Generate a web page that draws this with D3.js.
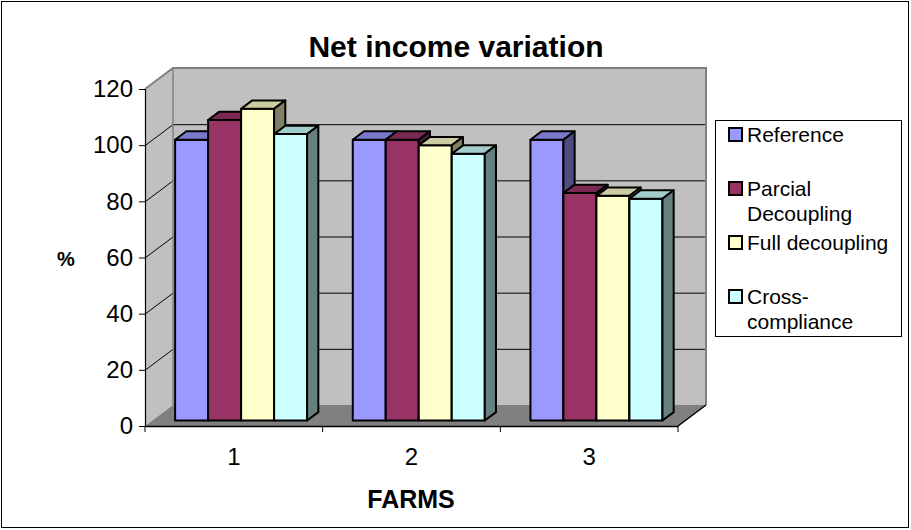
<!DOCTYPE html>
<html>
<head>
<meta charset="utf-8">
<script src="https://cdn.jsdelivr.net/npm/d3@7"></script>
<style>
  html, body { margin: 0; padding: 0; background: #ffffff; }
  svg { display: block; font-family: Arial, "Liberation Sans", sans-serif; }
</style>
</head>
<body>
<svg id="chart" width="911" height="530"></svg>
<script>
// Net income per farm under each policy scenario (% of reference)
const farms = ["1", "2", "3"];
const seriesNames = ["Reference", "Parcial Decoupling", "Full decoupling", "Cross-compliance"];
const legendLines = [["Reference"], ["Parcial", "Decoupling"], ["Full decoupling"], ["Cross-", "compliance"]];
const reference = [100, 100, 100];
const parcialDecoupling = [107, 100, 81];
const fullDecoupling = [111, 98, 80];
const crossCompliance = [102, 95, 79];
const yTicks = [0, 20, 40, 60, 80, 100, 120];
const seriesColors = ["#9999FF", "#993366", "#FFFFCC", "#CCFFFF"];

const seriesValues = [reference, parcialDecoupling, fullDecoupling, crossCompliance];

const svg = d3.select("#chart");

// Plot box: front plane plus an oblique depth offset for the 3-D walls
const x0 = 145, x1 = 678, yBase = 426, yTop = 89;
const DX = 28, DY = -21;            // full depth offset of the back wall
const barF0 = 0.26, barF1 = 0.66;   // bar front/back as a fraction of depth

const y = d3.scaleLinear().domain([0, 120]).range([yBase, yTop]);
const xCat = d3.scaleBand().domain(farms).range([x0, x1]).paddingInner(0.257).paddingOuter(0.1285);
const xSer = d3.scaleBand().domain(seriesNames).range([0, xCat.bandwidth()]).padding(0);

// project a front-plane point back by a depth fraction
const P = (px, v, f) => [px + f * DX, y(v) + f * DY];
const poly = pts => "M" + pts.map(p => p.join(",")).join("L") + "Z";

// outer frame
svg.append("rect").attr("x", 1.5).attr("y", 1.5).attr("width", 907).attr("height", 526)
  .attr("fill", "#fff").attr("stroke", "#000").attr("stroke-width", 1);

// title
svg.append("text").attr("x", 456).attr("y", 57).attr("text-anchor", "middle")
  .attr("font-size", 30).attr("font-weight", "bold").text("Net income variation");

const walls = svg.append("g");
// back wall
walls.append("path")
  .attr("d", poly([P(x0, 0, 1), P(x1, 0, 1), P(x1, 120, 1), P(x0, 120, 1)]))
  .attr("fill", "#C0C0C0");
// side wall
walls.append("path")
  .attr("d", poly([P(x0, 0, 0), P(x0, 0, 1), P(x0, 120, 1), P(x0, 120, 0)]))
  .attr("fill", "#C0C0C0");
// floor
walls.append("path")
  .attr("d", poly([P(x0, 0, 0), P(x1, 0, 0), P(x1, 0, 1), P(x0, 0, 1)]))
  .attr("fill", "#808080");

// gridlines on back wall and side wall
const grid = svg.append("g").attr("stroke", "#000").attr("stroke-width", 1).attr("fill", "none");
yTicks.filter(t => t > 0 && t < 120).forEach(t => {
  const a = P(x0, t, 0), b = P(x0, t, 1), c = P(x1, t, 1);
  grid.append("path").attr("d", `M${a[0]},${a[1] + 0.5}L${b[0]},${b[1] + 0.5}L${c[0]},${c[1] + 0.5}`);
});

// wall borders
const border = svg.append("g").attr("stroke", "#808080").attr("stroke-width", 2).attr("fill", "none");
{
  const a = P(x0, 120, 0), b = P(x0, 120, 1), c = P(x1, 120, 1), d = P(x1, 0, 1), e = P(x0, 0, 1);
  border.append("path").attr("d", `M${a}L${b}L${c}L${d}`);
  border.append("path").attr("d", `M${b}L${e}`).attr("stroke-width", 1.5);
}

// floor right edge (black)
{
  const a = P(x1, 0, 0), b = P(x1, 0, 1);
  svg.append("path").attr("d", `M${a}L${b}`).attr("stroke", "#000").attr("stroke-width", 1.5);
}

// axes
const yAxis = d3.axisLeft(y).tickValues(yTicks).tickSize(6).tickPadding(6).tickFormat(d3.format("d"));
const gy = svg.append("g").attr("transform", `translate(${x0},0)`).call(yAxis);
gy.select(".domain").attr("stroke", "#000").attr("stroke-width", 1.2);
gy.selectAll(".tick line").attr("stroke", "#000");
gy.selectAll(".tick text").attr("font-size", 24).attr("font-family", "Arial, 'Liberation Sans', sans-serif").attr("fill", "#000");

const xAxis = d3.axisBottom(xCat).tickSize(0).tickPadding(22);
const gx = svg.append("g").attr("transform", `translate(0,${yBase})`).call(xAxis);
gx.select(".domain").attr("stroke", "#000").attr("stroke-width", 1.5);
gx.selectAll(".tick text").attr("font-size", 24).attr("font-family", "Arial, 'Liberation Sans', sans-serif").attr("fill", "#000");
// tick marks at category boundaries
const bounds = farms.map(f => xCat(f) - xCat.step() * xCat.paddingInner() / 2).concat([x1]);
gx.selectAll(".bound").data(bounds).join("line").attr("class", "bound")
  .attr("x1", d => d).attr("x2", d => d).attr("y1", 0).attr("y2", 6).attr("stroke", "#000");

// bars, left to right so right-hand bars overlap the side faces of their neighbours
const shade = (c, k) => { const r = d3.rgb(c); return d3.rgb(r.r * k, r.g * k, r.b * k).formatHex(); };
const barsG = svg.append("g").attr("stroke", "#000").attr("stroke-width", 2).attr("stroke-linejoin", "round");
farms.forEach((farm, i) => {
  seriesNames.forEach((s, j) => {
    const v = seriesValues[j][i];
    const L = xCat(farm) + xSer(s), R = L + xSer.bandwidth();
    const col = seriesColors[j];
    const g = barsG.append("g");
    // front
    g.append("path").attr("fill", col)
      .attr("d", poly([P(L, 0, barF0), P(R, 0, barF0), P(R, v, barF0), P(L, v, barF0)]));
    // top
    g.append("path").attr("fill", shade(col, 0.8))
      .attr("d", poly([P(L, v, barF0), P(R, v, barF0), P(R, v, barF1), P(L, v, barF1)]));
    // right side
    g.append("path").attr("fill", shade(col, 0.5))
      .attr("d", poly([P(R, 0, barF0), P(R, 0, barF1), P(R, v, barF1), P(R, v, barF0)]));
  });
});

// axis titles
svg.append("text").attr("x", 66).attr("y", 266).attr("text-anchor", "middle")
  .attr("font-size", 20).attr("font-weight", "bold").text("%");
svg.append("text").attr("x", 411).attr("y", 508).attr("text-anchor", "middle")
  .attr("font-size", 25).attr("font-weight", "bold").text("FARMS");

// legend
const lg = svg.append("g");
lg.append("rect").attr("x", 715.5).attr("y", 120.5).attr("width", 186).attr("height", 216)
  .attr("fill", "#fff").attr("stroke", "#000").attr("stroke-width", 1);
const legendTop = [128, 182, 236, 290];
seriesNames.forEach((s, j) => {
  const ty = legendTop[j];
  lg.append("rect").attr("x", 729).attr("y", ty).attr("width", 13).attr("height", 13)
    .attr("fill", seriesColors[j]).attr("stroke", "#000").attr("stroke-width", 2);
  legendLines[j].forEach((line, k) => {
    lg.append("text").attr("x", 747).attr("y", ty + 14 + k * 25)
      .attr("font-size", 21).text(line);
  });
});
</script>
</body>
</html>
